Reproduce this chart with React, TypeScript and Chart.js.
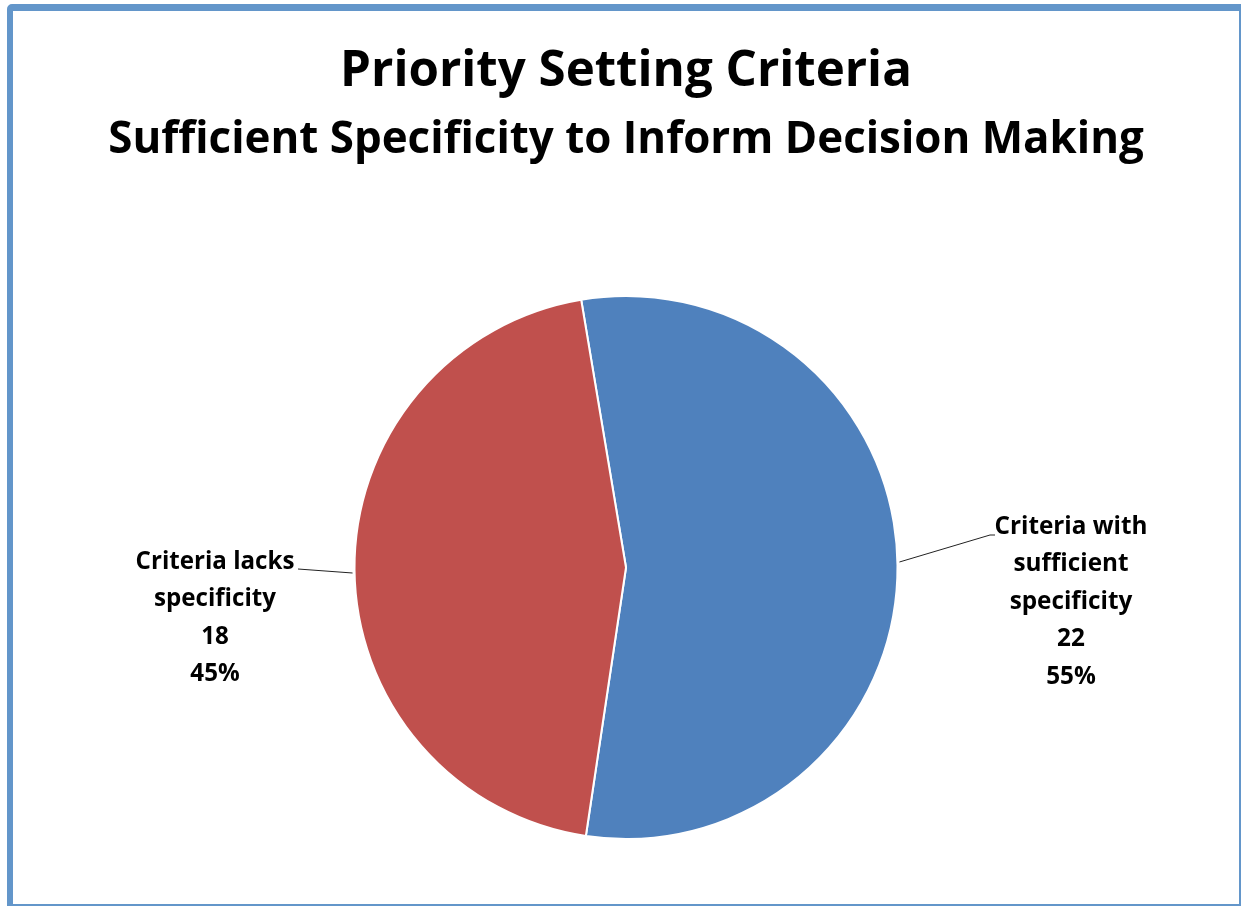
import React, { useEffect, useRef } from "react";
import { Chart, registerables } from "chart.js";

Chart.register(...registerables);

const categories = ["Criteria with sufficient specificity", "Criteria lacks specificity"];
const labelLines = [
  ["Criteria with", "sufficient", "specificity"],
  ["Criteria lacks", "specificity"],
];
const counts = [22, 18];
const percents = ["55%", "45%"];
const colors = ["#4F81BD", "#C0504D"];
const titleText = "Priority Setting Criteria";
const subtitleText = "Sufficient Specificity to Inform Decision Making";

const FONT = "'Open Sans', 'Noto Sans', sans-serif";

function fitSize(ctx: CanvasRenderingContext2D, text: string, target: number) {
  ctx.font = `bold 40px ${FONT}`;
  const w = ctx.measureText(text).width;
  return (40 * target) / w;
}

const textPlugin = {
  id: "customText",
  afterDraw(chart: any) {
    const ctx = chart.ctx as CanvasRenderingContext2D;
    ctx.save();
    ctx.fillStyle = "#000";
    ctx.textAlign = "center";
    ctx.textBaseline = "middle";
    let s1 = fitSize(ctx, titleText, 572);
    ctx.font = `bold ${s1}px ${FONT}`;
    ctx.fillText(titleText, 626, 72);
    let s2 = fitSize(ctx, subtitleText, 1036);
    ctx.font = `bold ${s2}px ${FONT}`;
    ctx.fillText(subtitleText, 626, 140);

    const meta = chart.getDatasetMeta(0);
    const specs = [
      { cx: 1071, y0: 527, lx: 995, ly: 535, ty: 562, w: 153 },
      { cx: 215, y0: 562, lx: 298, ly: 569, ty: 573, w: 159 },
    ];
    meta.data.forEach((arc: any, i: number) => {
      const s = specs[i];
      const { x, y, outerRadius } = arc.getProps(["x", "y", "outerRadius"], true);
      const dy = s.ty - y;
      const dx = Math.sqrt(Math.max(outerRadius * outerRadius - dy * dy, 0)) * (i === 0 ? 1 : -1);
      ctx.strokeStyle = "#222";
      ctx.lineWidth = 1;
      ctx.beginPath();
      ctx.moveTo(x + dx + (i === 0 ? 2 : -2), y + dy);
      if (i === 0) {
        ctx.lineTo(s.lx - 5, s.ly);
        ctx.lineTo(s.lx, s.ly);
      } else {
        ctx.lineTo(s.lx, s.ly);
      }
      ctx.stroke();
      const lines = [...labelLines[i], String(counts[i]), percents[i]];
      const fs = fitSize(ctx, labelLines[i][0], s.w);
      ctx.font = `bold ${fs}px ${FONT}`;
      ctx.fillStyle = "#000";
      lines.forEach((t, k) => ctx.fillText(t, s.cx, s.y0 + k * 37.5));
    });
    ctx.restore();
  },
};

export default function App() {
  const ref = useRef<HTMLCanvasElement>(null);
  useEffect(() => {
    document.body.style.margin = "0";
    const chart = new Chart(ref.current!, {
      type: "pie",
      data: {
        labels: categories,
        datasets: [
          {
            data: counts,
            backgroundColor: colors,
            borderColor: "#ffffff",
            borderWidth: 2,
          },
        ],
      },
      options: {
        animation: false,
        responsive: false,
        rotation: -9.5,
        layout: { padding: { left: 353, right: 342, top: 295, bottom: 66 } },
        plugins: { legend: { display: false }, tooltip: { enabled: false }, title: { display: false } },
      },
      plugins: [textPlugin],
    });
    return () => chart.destroy();
  }, []);
  return (
    <div style={{ position: "fixed", left: 0, top: 0, width: 1241, height: 906, background: "#fff" }}>
      <canvas ref={ref} width={1241} height={906} style={{ position: "absolute", left: 0, top: 0 }} />
      <div
        style={{
          position: "absolute",
          left: 7,
          top: 4,
          width: 1241 - 7 - 8,
          height: 906 - 4 - 9,
          borderStyle: "solid",
          borderColor: "#6396CA",
          borderWidth: "7px 2px 2px 6px",
          borderTopLeftRadius: 5,
          pointerEvents: "none",
        }}
      />
    </div>
  );
}
